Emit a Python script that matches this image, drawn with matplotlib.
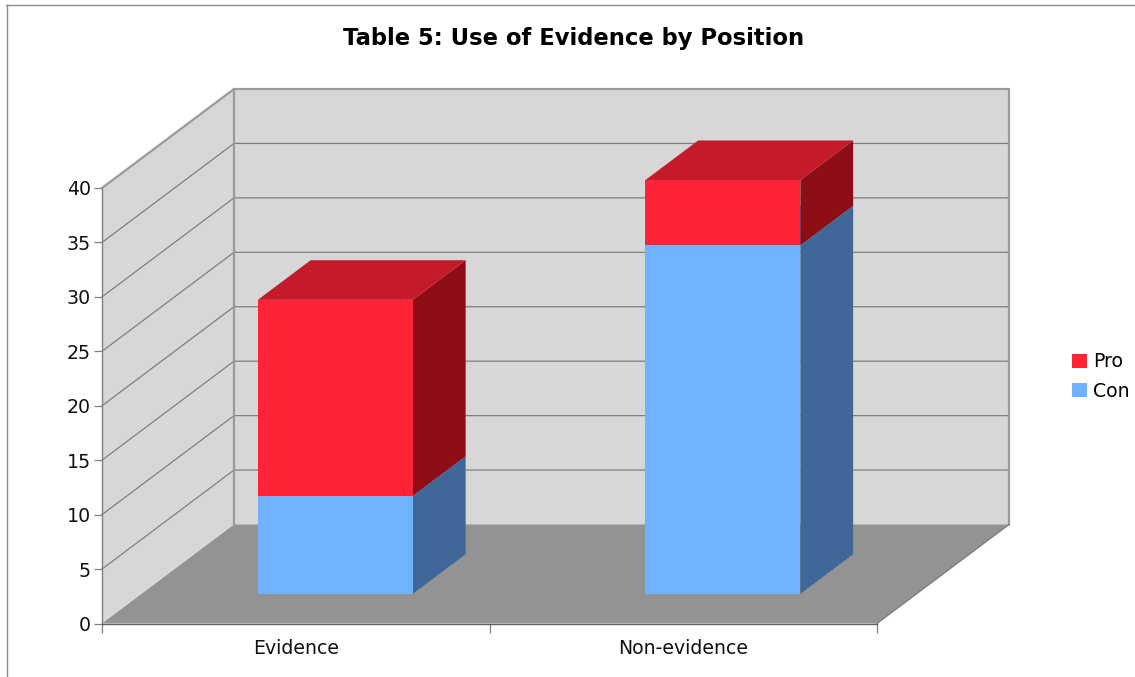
import matplotlib
matplotlib.use('Agg')
import matplotlib.pyplot as plt
from matplotlib.patches import Patch, Polygon

categories = ['Evidence', 'Non-evidence']
con_values = [9, 32]
pro_values = [18, 6]
y_ticks = [0, 5, 10, 15, 20, 25, 30, 35, 40]

W, H = 1135, 677
FLOOR_Y = 623.5
TOP_Y = 188.0
LEFT_X = 102.0
RIGHT_X = 877.0

# depth of the box, in category units and value units
DX = 132.0 / ((RIGHT_X - LEFT_X) / 2)
DY = 99.0 / ((FLOOR_Y - TOP_Y) / 40)


def proj(x, y, d):
    return (x + d * DX, y + d * DY)


def poly(ax, pts, color, edge='none', lw=0.0, z=1):
    ax.add_patch(Polygon([proj(*p) for p in pts], closed=True, facecolor=color,
                         edgecolor=edge, linewidth=lw, clip_on=False, zorder=z))


def draw_box(ax, x0, x1, y0, y1, front, top, side, z):
    d0, d1 = 0.3, 0.7
    poly(ax, [(x0, y0, d0), (x1, y0, d0), (x1, y1, d0), (x0, y1, d0)], front, z=z + 0.2)
    poly(ax, [(x1, y0, d0), (x1, y0, d1), (x1, y1, d1), (x1, y1, d0)], side, z=z)
    poly(ax, [(x0, y1, d0), (x1, y1, d0), (x1, y1, d1), (x0, y1, d1)], top, z=z + 0.1)


plt.rcParams['font.family'] = 'DejaVu Sans'
fig = plt.figure(figsize=(W / 100, H / 100), dpi=100, facecolor='white')
ax = fig.add_axes([LEFT_X / W, 1 - FLOOR_Y / H, (RIGHT_X - LEFT_X) / W, (FLOOR_Y - TOP_Y) / H])
ax.set_xlim(0, 2)
ax.set_ylim(0, 40)
ax.patch.set_visible(False)
for s in ['top', 'right']:
    ax.spines[s].set_visible(False)
for s in ['left', 'bottom']:
    ax.spines[s].set_color('#808080')
    ax.spines[s].set_linewidth(1.0)
    ax.spines[s].set_zorder(6)
ax.spines['bottom'].set_color('#606060')

# walls and floor
wall = '#d7d7d7'
poly(ax, [(0, 0, 0), (0, 0, 1), (0, 40, 1), (0, 40, 0)], wall, z=1)
poly(ax, [(0, 0, 1), (2, 0, 1), (2, 40, 1), (0, 40, 1)], wall, z=1)
poly(ax, [(0, 0, 0), (2, 0, 0), (2, 0, 1), (0, 0, 1)], '#939393', z=1.5)

# gridlines run along the side wall and the back wall
for v in y_ticks[1:-1]:
    a, b = proj(0, v, 0), proj(0, v, 1)
    c = proj(2, v, 1)
    ax.plot([a[0], b[0], c[0]], [a[1], b[1], c[1]], color='#7f7f7f', lw=0.9,
            clip_on=False, zorder=2)

# box outline
edge = '#9a9a9a'
corners = [
    [(0, 40, 0), (0, 40, 1), (2, 40, 1), (2, 0, 1)],
    [(0, 40, 1), (0, 0, 1)],
]
for line in corners:
    pts = [proj(*p) for p in line]
    ax.plot([p[0] for p in pts], [p[1] for p in pts], color=edge, lw=1.6,
            clip_on=False, zorder=2.5, solid_capstyle='projecting')
a, b = proj(2, 0, 0), proj(2, 0, 1)
ax.plot([a[0], b[0]], [a[1], b[1]], color='#7a7a7a', lw=0.9, clip_on=False, zorder=2.5)

# stacked bars
for i in range(len(categories)):
    x0 = i + 0.3
    x1 = i + 0.7
    draw_box(ax, x0, x1, 0, con_values[i], '#6fb2ff', '#5a90cf', '#3f6899', z=3 + i)
    draw_box(ax, x0, x1, con_values[i], con_values[i] + pro_values[i],
             '#ff2337', '#c41a2a', '#8e0e18', z=3.5 + i)

ax.set_yticks(y_ticks)
ax.tick_params(axis='y', length=5.5, width=0.9, color='#808080', labelsize=13.7, pad=2.5,
               labelcolor='#111111')
ax.set_xticks([0, 1, 2])
ax.set_xticklabels([])
ax.set_xticks([0.5, 1.5], minor=True)
ax.set_xticklabels(categories, minor=True)
ax.tick_params(axis='x', which='major', length=6.5, width=0.9, color='#808080')
ax.tick_params(axis='x', which='minor', length=0, labelsize=13.6, pad=11.5, labelcolor='#111111')

fig.text(574 / W, 1 - 38 / H, 'Table 5: Use of Evidence by Position', ha='center', va='center',
         fontsize=16.25, fontweight='bold', color='black')

handles = [Patch(facecolor='#ff2337', edgecolor='none', label='Pro'),
           Patch(facecolor='#6fb2ff', edgecolor='none', label='Con')]
fig.legend(handles=handles, loc='center left', bbox_to_anchor=(1072 / W, 1 - 376.5 / H),
           frameon=False, fontsize=13.6, handlelength=0.8, handleheight=0.8,
           handletextpad=0.33, labelspacing=0.55, borderpad=0, borderaxespad=0)

# outer frame lines
fig.add_artist(plt.Line2D([6.5 / W, 6.5 / W], [0, 1 - 4.5 / H], color='#8c8c8c', lw=1.0))
fig.add_artist(plt.Line2D([6 / W, 1], [1 - 4.5 / H, 1 - 4.5 / H], color='#8c8c8c', lw=1.0))

fig.savefig('out.png', dpi=100, facecolor='white')
